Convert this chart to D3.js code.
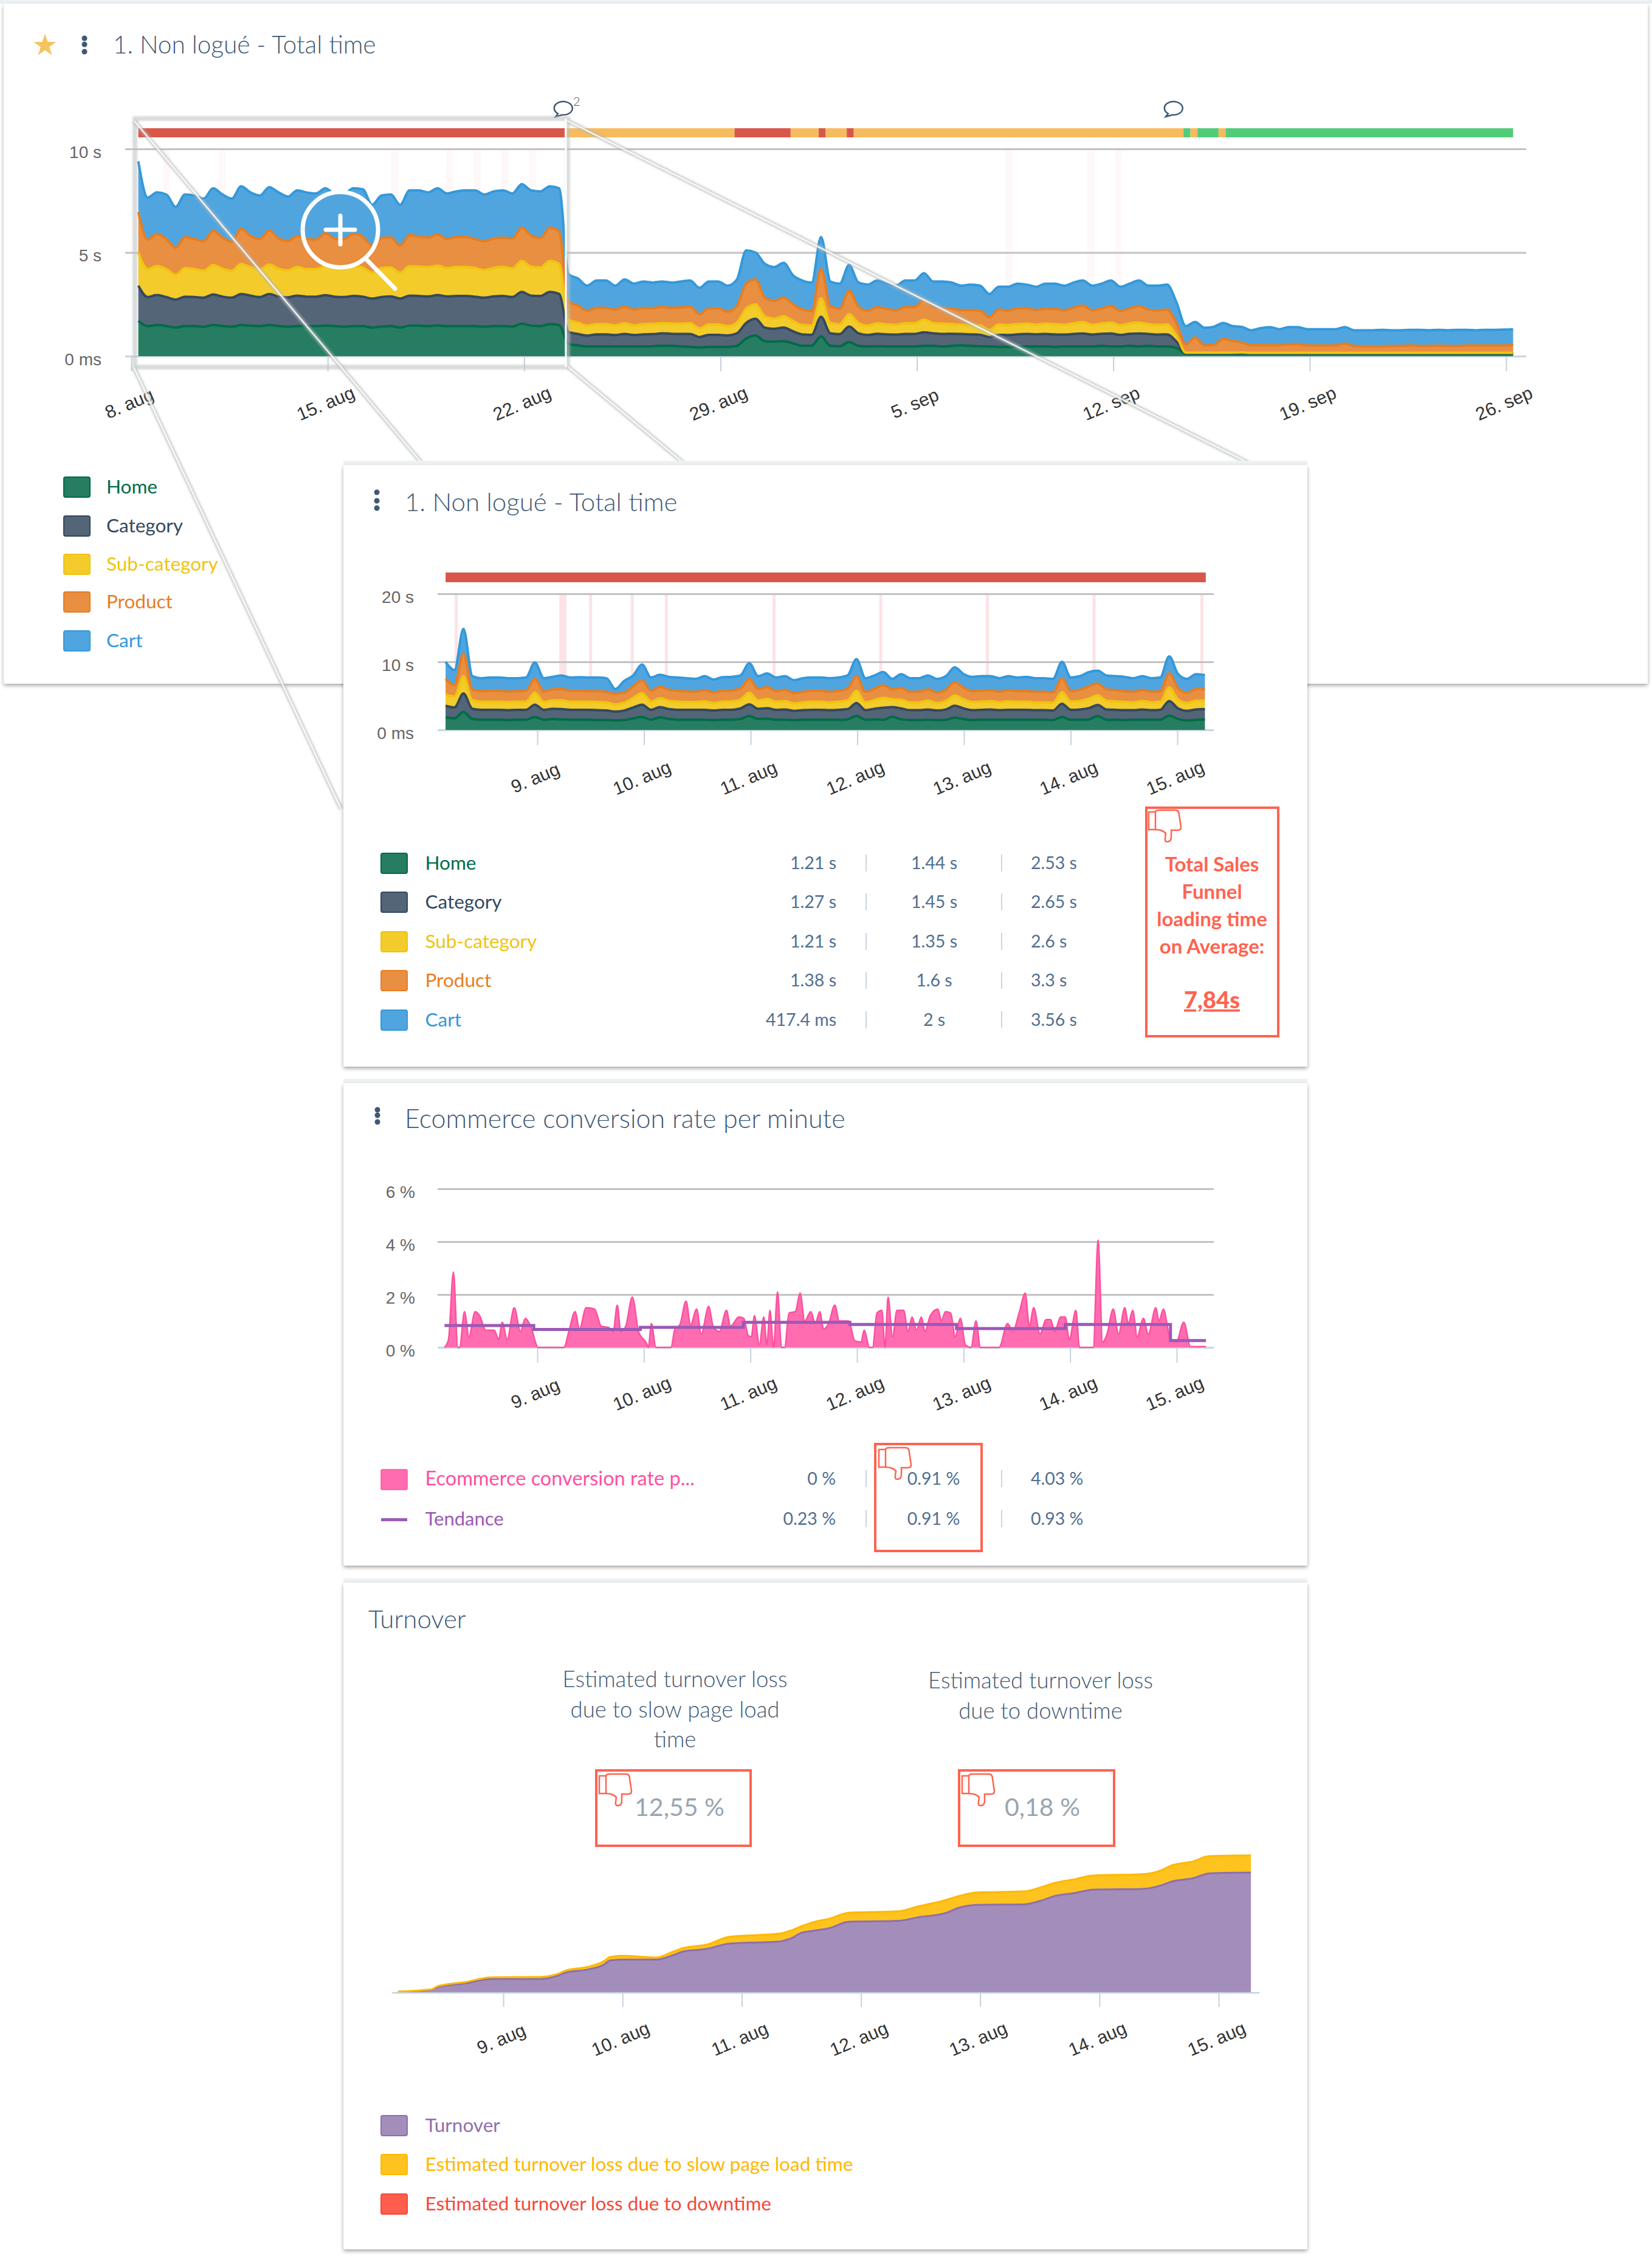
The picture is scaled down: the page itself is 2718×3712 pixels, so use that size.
<!DOCTYPE html>
<html>
<head>
<meta charset="utf-8">
<title>Total time</title>
<script src="https://cdn.jsdelivr.net/npm/d3@7"></script>
<style>
  html, body { margin: 0; padding: 0; background: #fff; }
  svg { display: block; }
  text { font-family: Lato, sans-serif; }
  .tick text { font-family: "Liberation Sans", sans-serif; }
</style>
</head>
<body>
<svg id="page" width="2718" height="3712"></svg>
<script>
// ---- overview chart, one point every 8 hours, 8 aug 06:00 -> 26 sep 06:00 (seconds)
const overviewHome = [
  1.7,1.45,1.5,1.45,1.38,1.45,1.45,1.42,1.5,1.45,1.42,1.5,1.47,1.45,1.5,1.45,1.42,1.45,1.45,1.45,1.47,1.45,1.42,
  1.45,1.45,1.38,1.43,1.45,1.38,1.47,1.47,1.45,1.48,1.45,1.45,1.45,1.45,1.42,1.45,1.45,1.43,1.57,1.47,1.45,1.55,1.5,
  .58,.52,.47,.47,.47,.47,.47,.47,.47,.48,.5,.5,.47,.45,.42,.45,.45,.45,.5,.85,
  1.0,.72,.7,.72,.62,.5,.5,.95,.5,.48,.68,.5,.47,.48,.47,.47,.47,.47,.5,.5,
  .47,.5,.52,.5,.48,.47,.45,.45,.45,.47,.47,.47,.45,.47,.47,.47,.47,.5,.47,.47,.5,.47,.5,.47,.47,
  .4,.12,.12,.12,.12,.12,.12,.13,
  .13,.13,.13,.13,.13,.13,.13,.13,.13,.13,.13,.13,.13,.13,.13,.13,.13,.13,.13,.13,.13,.13,.13,.13,.13,.13,.13,.13,.13];
const overviewCategory = [
  1.7,1.4,1.45,1.4,1.35,1.42,1.4,1.4,1.48,1.42,1.4,1.5,1.45,1.4,1.5,1.42,1.42,1.47,1.42,1.42,1.47,1.42,1.43,
  1.45,1.42,1.4,1.42,1.43,1.4,1.45,1.43,1.43,1.47,1.43,1.45,1.45,1.42,1.4,1.43,1.45,1.42,1.53,1.45,1.45,1.55,1.5,
  .59,.55,.52,.58,.58,.55,.6,.55,.58,.58,.6,.58,.6,.62,.5,.58,.58,.55,.6,.75,
  .8,.65,.62,.66,.58,.55,.53,.95,.6,.58,.75,.6,.55,.6,.58,.57,.6,.6,.65,.6,
  .6,.58,.55,.55,.55,.45,.58,.57,.6,.6,.58,.6,.6,.57,.6,.62,.57,.58,.62,.55,.58,.62,.57,.57,.58,
  .3,.02,.02,.02,.02,.02,.02,.02,
  .01,.01,.01,.01,.01,.01,.01,.01,.01,.01,.01,.01,.01,.01,.01,.01,.01,.01,.01,.01,.01,.01,.01,.01,.01,.01,.01,.01,.01];
const overviewSub = [
  1.6,1.35,1.4,1.35,1.2,1.38,1.35,1.3,1.42,1.35,1.3,1.45,1.38,1.35,1.42,1.35,1.3,1.38,1.33,1.33,1.4,1.35,1.35,
  1.45,1.4,1.25,1.4,1.4,1.25,1.42,1.42,1.42,1.42,1.37,1.4,1.4,1.38,1.33,1.38,1.4,1.38,1.5,1.4,1.38,1.5,1.45,
  .59,.55,.48,.5,.5,.47,.52,.47,.5,.5,.5,.5,.5,.52,.42,.5,.5,.45,.52,.7,
  .7,.55,.5,.55,.5,.45,.45,.9,.5,.48,.6,.5,.45,.5,.48,.47,.52,.52,.62,.5,
  .5,.47,.45,.45,.45,.35,.5,.48,.5,.5,.47,.5,.5,.47,.52,.55,.47,.5,.53,.47,.5,.53,.47,.47,.48,
  .3,.03,.03,.03,.03,.03,.03,.03,
  .02,.02,.02,.02,.02,.02,.02,.02,.02,.02,.02,.02,.02,.02,.02,.02,.02,.02,.02,.02,.02,.02,.02,.02,.02,.02,.02,.02,.02];
const overviewProduct = [
  1.95,1.42,1.55,1.45,1.3,1.5,1.45,1.42,1.65,1.5,1.4,1.7,1.5,1.45,1.65,1.45,1.42,1.5,1.45,1.42,1.6,1.45,1.45,
  1.55,1.5,1.3,1.45,1.45,1.3,1.5,1.45,1.42,1.5,1.4,1.45,1.45,1.4,1.4,1.42,1.42,1.45,1.6,1.5,1.42,1.6,1.55,
  .88,.82,.72,.78,.78,.75,.8,.75,.78,.75,.78,.75,.78,.8,.68,.78,.78,.7,.8,1.2,
  1.2,.9,.85,.9,.8,.75,.7,1.4,.8,.75,1.12,.78,.72,.78,.75,.7,.78,.78,.95,.78,
  .76,.75,.7,.72,.72,.6,.72,.7,.75,.75,.7,.72,.72,.7,.75,.8,.7,.72,.8,.7,.72,.8,.7,.7,.72,
  .6,.4,.73,.35,.37,.66,.58,.48,
  .37,.37,.37,.37,.42,.42,.36,.35,.35,.36,.45,.33,.32,.32,.32,.33,.33,.36,.33,.33,.35,.33,.33,.35,.35,.35,.35,.35,.4];
const overviewCart = [
  2.45,2.03,2.0,2.15,1.97,2.05,2.1,2.06,2.05,2.08,2.08,2.05,2.1,2.1,2.08,2.23,2.14,2.2,2.25,2.23,2.16,2.18,2.2,
  2.2,2.28,1.97,2.05,2.07,1.97,2.16,2.23,2.18,2.23,2.2,2.2,2.25,2.35,2.25,2.27,2.28,2.17,2.1,2.18,2.25,2.0,2.1,
  1.31,1.31,1.21,1.32,1.32,1.16,1.31,1.26,1.27,1.24,1.22,1.22,1.25,1.26,1.28,1.29,1.29,1.25,1.28,1.6,
  1.3,1.63,1.63,1.67,1.4,1.4,1.37,1.55,1.2,1.21,1.25,1.17,1.26,1.29,1.22,1.19,1.28,1.28,1.28,1.22,
  1.27,1.25,1.18,1.23,1.2,1.13,1.1,1.15,1.2,1.13,1.13,1.21,1.23,1.19,1.21,1.21,1.19,1.2,1.23,1.16,1.2,1.23,1.16,1.19,1.2,
  1.0,.88,.75,.85,.88,.77,.7,.75,
  .72,.82,.87,.77,.82,.82,.78,.79,.79,.78,.79,.76,.77,.77,.79,.76,.76,.75,.78,.76,.76,.76,.78,.76,.74,.76,.76,.77,.74];
const overviewTickDays = [0, 7, 14, 21, 28, 35, 42, 49];
const overviewTickLabels = ['8. aug', '15. aug', '22. aug', '29. aug', '5. sep', '12. sep', '19. sep', '26. sep'];
const overviewStatusFrom = [.25, 15.5, 21.5, 23.5, 24.5, 24.75, 25.5, 25.75, 37.5, 37.75, 38, 38.75, 39];
const overviewStatusTo = [15.45, 21.5, 23.5, 24.5, 24.75, 25.5, 25.75, 37.5, 37.75, 38, 38.75, 39, 49.25];
const overviewStatusKind = ['red', 'orange', 'red', 'orange', 'red', 'orange', 'red', 'orange', 'green', 'orange', 'green', 'orange', 'green'];
const overviewAlertDays = [1.26, 3.23, 9.38, 11.35, 12.33, 13.32, 14.3, 31.28, 34.2, 35.2];

// ---- detail chart, one point every 2 hours from 8 aug 03:24 (seconds)
const detailHome = [
  1.85,1.7,2.65,1.6,1.5,1.5,1.5,1.45,1.5,1.5,
  1.9,1.5,1.6,1.55,1.5,1.5,1.5,1.45,1.45,1.4,
  1.45,1.7,1.9,1.5,1.85,1.6,1.5,1.5,1.5,1.5,
  1.45,1.5,1.5,1.6,2.05,1.6,1.65,1.5,1.5,1.45,
  1.5,1.5,1.5,1.5,1.5,1.55,2.05,1.5,1.55,1.5,
  1.95,1.55,1.45,1.45,1.5,1.45,1.5,1.8,1.6,1.45,
  1.5,1.5,1.5,1.5,1.5,1.5,1.5,1.5,1.45,1.9,
  1.5,1.5,1.55,2.05,1.5,1.5,1.45,1.5,1.5,1.5,
  1.5,2.1,1.6,1.4,1.5,1.55];
const detailCategory = [
  1.7,1.6,2.7,1.5,1.45,1.45,1.45,1.45,1.45,1.45,
  1.8,1.45,1.5,1.5,1.45,1.45,1.45,1.45,1.4,1.3,
  1.4,1.6,1.8,1.45,1.5,1.45,1.45,1.45,1.45,1.45,
  1.4,1.45,1.45,1.55,1.7,1.5,1.55,1.45,1.5,1.35,
  1.4,1.45,1.45,1.4,1.45,1.5,1.9,1.4,1.55,1.75,
  1.4,1.6,1.45,1.45,1.5,1.4,1.5,1.75,1.55,1.45,
  1.45,1.5,1.4,1.45,1.45,1.45,1.4,1.4,1.4,1.95,
  1.45,1.5,1.65,1.6,1.5,1.45,1.45,1.4,1.5,1.4,
  1.45,2.15,1.55,1.4,1.5,1.5];
const detailSub = [
  1.65,1.6,2.55,1.25,1.2,1.2,1.2,1.2,1.2,1.2,
  1.8,1.15,1.25,1.3,1.2,1.2,1.2,1.2,1.2,1.05,
  1.15,1.4,1.7,1.2,1.3,1.25,1.2,1.15,1.15,1.25,
  1.1,1.2,1.25,1.3,1.75,1.25,1.35,1.2,1.25,1.1,
  1.15,1.2,1.2,1.15,1.2,1.3,1.8,1.15,1.3,1.45,
  1.15,1.3,1.15,1.15,1.3,1.1,1.25,1.5,1.35,1.2,
  1.2,1.25,1.15,1.25,1.2,1.2,1.15,1.15,1.15,1.7,
  1.2,1.25,1.4,1.45,1.3,1.25,1.2,1.15,1.25,1.15,
  1.2,2.0,1.3,1.15,1.3,1.25];
const detailProduct = [
  2.3,1.7,3.3,1.6,1.55,1.6,1.6,1.55,1.55,1.6,
  2.0,1.55,1.6,1.65,1.6,1.6,1.55,1.6,1.55,1.55,
  1.5,1.7,1.9,1.6,1.7,1.6,1.6,1.55,1.5,1.65,
  1.55,1.6,1.6,1.65,2.0,1.65,1.75,1.55,1.65,1.5,
  1.55,1.6,1.6,1.55,1.6,1.7,2.15,1.55,1.65,1.85,
  1.5,1.7,1.55,1.6,1.65,1.55,1.65,1.95,1.7,1.6,
  1.6,1.6,1.55,1.65,1.55,1.6,1.55,1.55,1.5,2.05,
  1.55,1.65,1.8,1.7,1.65,1.65,1.6,1.55,1.65,1.55,
  1.55,2.05,1.7,1.5,1.7,1.65];
const detailCart = [
  2.5,2.2,3.65,1.95,1.9,1.95,1.95,1.95,1.9,1.95,
  2.4,1.95,1.85,2,1.95,2,2,2,2,.7,
  1.7,1.6,2.3,1.95,1.75,1.9,1.95,1.95,1.9,2.05,
  1.9,2,2,1.9,2.3,1.9,2,2,2,1.9,
  2,1.95,1.95,2,1.95,1.95,2.5,2,1.95,1.95,
  1.5,2.05,2,1.95,2.05,2,2,2.2,2,2.1,
  2.15,2.05,2,2.05,2,2.05,2,2,2,2.4,
  2,2,2.1,1.9,2.05,2.05,2.1,2,2,2,
  2,2.5,2.05,2.05,2.2,2.1];
const detailTickDays = [1, 2, 3, 4, 5, 6, 7];
const detailTickLabels = ['9. aug', '10. aug', '11. aug', '12. aug', '13. aug', '14. aug', '15. aug'];
const detailAlertDays = [.24, 1.24, 1.5, 1.89, 2.21, 3.22, 4.22, 5.22, 6.22, 7.23];

const seriesNames = ['Home', 'Category', 'Sub-category', 'Product', 'Cart'];
const seriesFill = ['#277d61', '#546578', '#f3cb2b', '#e88f41', '#50a5df'];
const seriesStroke = ['#006b47', '#34495e', '#f1c40f', '#e67e22', '#3498db'];
const legendMin = ['1.21 s', '1.27 s', '1.21 s', '1.38 s', '417.4 ms'];
const legendAvg = ['1.44 s', '1.45 s', '1.35 s', '1.6 s', '2 s'];
const legendMax = ['2.53 s', '2.65 s', '2.6 s', '3.3 s', '3.56 s'];

// ---- conversion rate (hours since 8 aug 00:00, percent)
const conversionHours = [
  3.1,4,5.1,6.1,6.5,7.6,8.6,10,11,12.4,14.3,15.3,16.1,17.2,18.8,20.2,21.3,22.5,24.2,30,31.1,32.5,33.5,35,36.9,38.4,40.1,41.1,42,42.8,
  43.9,45.4,46.8,48.6,49,49.7,50.7,54.1,55,56.1,57.5,58.5,59.9,60.9,62.6,63.6,65,66.6,67.5,69.4,70.5,71.5,72.2,72.9,74,75,75.7,76.4,77.2,78.1,
  79,79.7,80.7,82.1,83.2,84.2,85.6,86.6,87.6,88.5,89.6,91,92,94.1,95.5,96.9,97.6,98.8,99.5,100.5,101.6,102.3,103,104,105,106.5,107.5,108.4,109.4,110.5,
  111.3,112.5,114.2,115,115.9,117.1,118.1,119.3,120.4,121.7,122.8,123.8,128,129.9,131.1,132.5,133.9,134.8,135.8,137.2,138.6,139.6,140.5,141.9,142.9,143.8,145.3,146.1,149.2,150.3,
  151.3,152.3,153.7,154.9,156.3,157.1,158.1,159.1,160.5,161.6,163.3,164,165,166.5,167.9,169.6,171.1,174.6];
const conversionRate = [
  0,.3,2.85,0,0,1.35,.4,1.35,1.2,.65,.65,.3,.95,.3,1.5,.6,1.1,.8,0,0,.6,1.35,.7,1.5,1.45,.8,.75,.6,1.6,.6,
  .8,1.9,.6,.15,0,.9,0,0,.7,.85,1.75,.85,1.45,.5,1.55,.8,.6,1.4,.8,1.15,1.1,.45,.4,1.2,.1,1.15,.1,1.4,0,2.1,
  0,0,1.3,1.35,2.05,1,1.35,.9,1.35,.7,.9,1.6,1,1,.25,.2,.65,0,0,1.3,1.4,0,1.9,.4,1.4,1.4,.6,1.15,.65,1.15,
  .6,1.2,1.45,1,1.35,1.3,.4,1.1,.1,0,1,0,0,.9,.6,1.3,2.05,.8,1.5,.5,1.05,1.05,.6,1.15,1.15,.3,1.4,0,0,4.05,
  .2,.5,1.45,.5,1.5,.9,1.4,.4,1.1,.5,1.5,1,1.45,.35,.2,.95,.03,.03];
const trendHours = [3.1, 23.2, 47.2, 70.4, 94.4, 118.4, 142.9, 166.6, 174.6];
const trendRate = [.83, .68, .76, .95, .87, .71, .87, .26, .26];

// ---- turnover (hours since 8 aug 00:00, share of final turnover)
const turnoverHours = [
  2.8,9.5,10.7,16.4,21.5,31.6,34.7,36.6,41,44.2,45.5,48,54.9,58.1,60,65,69.5,79.6,82.1,84,
  87.1,89.7,93.5,103.6,107.4,113,115.6,119.4,128.8,132.6,135.1,138.9,142.7,152.8,156.6,158.5,162.9,166.1,174.5];
const turnoverValue = [
  .7,2.5,4.7,7.9,11.5,11.5,14,16.8,19.4,23.3,26.9,27.6,27.6,31.2,34.1,36.6,40.9,42.7,45.6,49.9,
  52,53.8,59.1,59.9,62.7,66.3,70.6,73.1,73.5,77.1,80.6,82.8,85.7,86.4,89.6,92.5,95.3,99.3,100];
const turnoverSlowLoss = [
  .4,.4,.7,1.1,1.4,1.8,1.4,1.8,2.2,2.9,2.9,3.2,1.8,2.9,2.9,3.6,5.7,6.5,6.5,5.4,
  7.5,7.9,7.5,7.9,9,10.8,9.7,10.4,10.8,11.1,10.8,11.5,11.8,12.2,12.5,13.3,14,14.3,14.3];

const textBlue = '#3f5874';
const valueBlue = '#516f90';
const alertRed = '#ff6350';
const statusColor = {red: '#d9574a', orange: '#f7bb5f', green: '#52cb7b'};

const svg = d3.select('#page');

const defs = svg.append('defs');
defs.append('filter').attr('id', 'cardShadow')
  .attr('x', '-2%').attr('y', '-2%').attr('width', '104%').attr('height', '104%')
  .append('feDropShadow')
  .attr('dx', 0).attr('dy', 3).attr('stdDeviation', 3)
  .attr('flood-color', '#000').attr('flood-opacity', .35);
defs.append('filter').attr('id', 'soft')
  .attr('x', '-5%').attr('y', '-5%').attr('width', '110%').attr('height', '110%')
  .append('feGaussianBlur').attr('stdDeviation', 1.5);

function card(x0, y0, x1, y1) {
  svg.append('rect').attr('x', x0).attr('y', y0 - 7).attr('width', x1 - x0).attr('height', 7).attr('fill', '#eef2f4');
  svg.append('rect').attr('x', x0).attr('y', y0).attr('width', x1 - x0).attr('height', y1 - y0)
    .attr('rx', 3).attr('fill', '#fff').attr('filter', 'url(#cardShadow)');
}

function label(x, y, str, size, color, opts) {
  opts = opts || {};
  return svg.append('text').attr('x', x).attr('y', y + 3).text(str)
    .attr('font-size', size).attr('fill', color)
    .attr('text-anchor', opts.anchor || 'start')
    .attr('dominant-baseline', 'middle')
    .attr('font-weight', opts.weight || 400);
}

function menuDots(x, ys) {
  ys.forEach((y) => {
    svg.append('circle').attr('cx', x).attr('cy', y).attr('r', 4.5).attr('fill', textBlue);
  });
}

function thumbDown(x, y) {
  const g = svg.append('g').attr('transform', `translate(${x},${y})`)
    .attr('fill', 'none').attr('stroke', alertRed).attr('stroke-width', 2.5);
  g.append('path').attr('d', 'M0 3H11V32H0Z');
  g.append('path').attr('d', 'M11 3Q11 0 18 0H44Q50 0 50 8L53 28Q53 33 48 33H37V44Q37 52 30 52Q26 52 27 46L28 38Q22 32 11 32');
}

function alertBox(x0, y0, x1, y1) {
  svg.append('rect').attr('x', x0).attr('y', y0).attr('width', x1 - x0).attr('height', y1 - y0)
    .attr('fill', 'none').attr('stroke', alertRed).attr('stroke-width', 4);
}

function commentIcon(x, y) {
  svg.append('path').attr('transform', `translate(${x},${y})`)
    .attr('d', 'M-9 9A15 11 0 1 1 -2 11L-13 14Z')
    .attr('fill', '#fff').attr('stroke', textBlue).attr('stroke-width', 2.5);
}

function swatch(x, y, fill, stroke) {
  svg.append('rect').attr('x', x).attr('y', y - 16).attr('width', 43).attr('height', 33).attr('rx', 3)
    .attr('fill', fill).attr('stroke', stroke).attr('stroke-width', 2);
}

// y axis whose ticks are the chart's gridlines
function gridAxis(y, left, right, values, format, labelGap) {
  const g = svg.append('g').attr('transform', `translate(${left},0)`)
    .call(d3.axisLeft(y).tickValues(values).tickFormat(format)
      .tickSize(-(right - left)).tickPadding(labelGap));
  g.select('.domain').remove();
  g.selectAll('.tick line').attr('stroke', (d) => d === 0 ? '#c6d5e0' : '#c2c2c2').attr('stroke-width', 3);
  g.selectAll('.tick text').attr('font-size', 28).attr('fill', '#666').attr('dy', '.5em');
  return g;
}

function timeAxis(x, y0, days, labels, tickLen, labelY) {
  const g = svg.append('g').attr('transform', `translate(0,${y0})`)
    .call(d3.axisBottom(x).tickValues(days).tickFormat((d, i) => labels[i]).tickSize(tickLen));
  g.select('.domain').remove();
  g.selectAll('.tick line').attr('stroke', '#c3d2df').attr('stroke-width', 2);
  g.selectAll('.tick text')
    .attr('font-size', 30).attr('fill', '#333')
    .attr('y', 0).attr('dy', 0)
    .attr('text-anchor', 'middle').attr('dominant-baseline', 'middle')
    .attr('transform', `translate(-3,${labelY}) rotate(-23)`);
}

function drawStack(columns, dayOf, x, y) {
  const rows = columns[0].map((_, i) => {
    const row = {day: dayOf(i)};
    seriesNames.forEach((name, s) => { row[name] = columns[s][i]; });
    return row;
  });
  const layers = d3.stack().keys(seriesNames)(rows);
  const area = d3.area().curve(d3.curveMonotoneX)
    .x((d) => x(d.data.day)).y0((d) => y(d[0])).y1((d) => y(d[1]));
  const line = d3.line().curve(d3.curveMonotoneX)
    .x((d) => x(d.data.day)).y((d) => y(d[1]));
  layers.forEach((layer, s) => {
    svg.append('path').datum(layer).attr('d', area).attr('fill', seriesFill[s]);
  });
  layers.forEach((layer, s) => {
    svg.append('path').datum(layer).attr('d', line).attr('fill', 'none')
      .attr('stroke', seriesStroke[s]).attr('stroke-width', 4).attr('stroke-linejoin', 'round');
  });
}

// ======== overview card
svg.append('rect').attr('width', 2718).attr('height', 6).attr('fill', '#eaeff2');
card(6, 6, 2711, 1125);
svg.append('path').attr('d', d3.symbol(d3.symbolStar, 430)()).attr('transform', 'translate(74,75)').attr('fill', '#f6c35f');
menuDots(139, [63, 73, 85]);
label(186, 75, '1. Non logué - Total time', 40.5, textBlue, {weight: 300});

const xOverview = d3.scaleLinear().domain([0, 49]).range([216, 2478]);
const yOverview = d3.scaleLinear().domain([0, 10]).range([586, 245]);

overviewAlertDays.forEach((day) => {
  svg.append('rect').attr('x', xOverview(day - .125)).attr('y', 247).attr('width', xOverview(.25) - xOverview(0))
    .attr('height', 339).attr('fill', '#fff8f8');
});
gridAxis(yOverview, 206, 2511, [0, 5, 10], (d) => ['0 ms', '5 s', '10 s'][d / 5], 39);
overviewStatusFrom.forEach((from, i) => {
  svg.append('rect').attr('x', xOverview(from)).attr('y', 211)
    .attr('width', xOverview(overviewStatusTo[i]) - xOverview(from)).attr('height', 15)
    .attr('fill', statusColor[overviewStatusKind[i]]);
});
drawStack([overviewHome, overviewCategory, overviewSub, overviewProduct, overviewCart],
  (i) => .25 + i / 3, xOverview, yOverview);
timeAxis(xOverview, 587, overviewTickDays, overviewTickLabels, 24, 79);

commentIcon(927, 178);
label(943, 166, '2', 20, textBlue, {weight: 300});
commentIcon(1931, 178);

seriesNames.forEach((name, s) => {
  const yMid = [801, 865, 928, 990, 1054][s];
  swatch(105, yMid, seriesFill[s], seriesStroke[s]);
  label(175, yMid, name, 31.5, seriesStroke[s]);
});

// zoom selection: box, connector lines and the lens
const connectors = [[221, 199, 694, 762], [934, 199, 2055, 762], [220, 604, 561, 1331], [935, 604, 1125, 762]];
const zoomFx = svg.append('g').attr('fill', 'none');
connectors.forEach((c) => {
  zoomFx.append('line').attr('x1', c[0]).attr('y1', c[1]).attr('x2', c[2]).attr('y2', c[3])
    .attr('stroke', '#b4b8b8').attr('stroke-opacity', .6).attr('stroke-width', 8).attr('filter', 'url(#soft)');
});
zoomFx.append('rect').attr('x', 222).attr('y', 195).attr('width', 712).attr('height', 409)
  .attr('stroke', '#bcc0c0').attr('stroke-opacity', .55).attr('stroke-width', 8).attr('filter', 'url(#soft)');
connectors.forEach((c) => {
  zoomFx.append('line').attr('x1', c[0]).attr('y1', c[1]).attr('x2', c[2]).attr('y2', c[3])
    .attr('stroke', '#fff').attr('stroke-opacity', .85).attr('stroke-width', 2.5);
});
zoomFx.append('line').attr('x1', 931).attr('x2', 931).attr('y1', 195).attr('y2', 604).attr('stroke', '#fff').attr('stroke-width', 3);
const lens = svg.append('g').attr('fill', 'none').attr('stroke', '#fff').attr('stroke-width', 7).attr('stroke-linecap', 'round');
lens.append('circle').attr('cx', 560).attr('cy', 378).attr('r', 62);
lens.append('path').attr('d', 'M560 355V402M536 378H584M603 427L650 475');

// ======== detail card
card(565, 765, 2151, 1755);
menuDots(620, [810, 824, 836]);
label(666, 828, '1. Non logué - Total time', 42, textBlue, {weight: 300});

const xDetail = d3.scaleLinear().domain([0, 7]).range([708.5, 1937]);
const yDetail = d3.scaleLinear().domain([0, 20]).range([1201, 977]);

detailAlertDays.forEach((day, i) => {
  const w = i === 1 ? 12 : 5;
  svg.append('rect').attr('x', xDetail(day) - w / 2).attr('y', 979).attr('width', w).attr('height', 222).attr('fill', '#fde3e6');
});
gridAxis(yDetail, 720, 1997, [0, 10, 20], (d) => ['0 ms', '10 s', '20 s'][d / 10], 39);
svg.append('rect').attr('x', xDetail(.14)).attr('y', 942).attr('width', xDetail(7.267) - xDetail(.14)).attr('height', 16)
  .attr('fill', statusColor.red);
drawStack([detailHome, detailCategory, detailSub, detailProduct, detailCart],
  (i) => .14 + i * 2.01 / 24, xDetail, yDetail);
timeAxis(xDetail, 1201, detailTickDays, detailTickLabels, 25, 81);

seriesNames.forEach((name, s) => {
  const yMid = [1420, 1484, 1549, 1613, 1678][s];
  swatch(627, yMid, seriesFill[s], seriesStroke[s]);
  label(699.5, yMid, name, 31.5, seriesStroke[s]);
  label(1376, yMid, legendMin[s], 28.5, valueBlue, {anchor: 'end'});
  label(1537, yMid, legendAvg[s], 28.5, valueBlue, {anchor: 'middle'});
  label(1696, yMid, legendMax[s], 28.5, valueBlue);
  [1425, 1648].forEach((sx) => {
    svg.append('line').attr('x1', sx).attr('x2', sx).attr('y1', yMid - 14).attr('y2', yMid + 14)
      .attr('stroke', '#cbd6e2').attr('stroke-width', 2);
  });
});

alertBox(1886, 1329, 2103, 1705);
thumbDown(1890, 1333);
['Total Sales', 'Funnel', 'loading time', 'on Average:'].forEach((line, i) => {
  label(1994, 1423 + i * 44.7, line, 33, alertRed, {anchor: 'middle', weight: 700});
});
label(1994, 1646, '7,84s', 38, alertRed, {anchor: 'middle', weight: 900}).attr('text-decoration', 'underline');

// ======== conversion card
card(565, 1782, 2151, 2576);
menuDots(621, [1826, 1835, 1846]);
label(666, 1842, 'Ecommerce conversion rate per minute', 43, textBlue, {weight: 300});

const xConversion = d3.scaleLinear().domain([0, 168]).range([708.7, 1936]);
const yConversion = d3.scaleLinear().domain([0, 6]).range([2217, 1956]);

gridAxis(yConversion, 720, 1997, [0, 2, 4, 6], (d) => d + ' %', 37);
const conversionPoints = conversionHours.map((h, i) => ({h: h, v: conversionRate[i]}));
svg.append('path').datum(conversionPoints)
  .attr('d', d3.area().curve(d3.curveMonotoneX).x((d) => xConversion(d.h)).y0(yConversion(0)).y1((d) => yConversion(d.v)))
  .attr('fill', '#ff6db0');
svg.append('path').datum(conversionPoints)
  .attr('d', d3.line().curve(d3.curveMonotoneX).x((d) => xConversion(d.h)).y((d) => yConversion(d.v)))
  .attr('fill', 'none').attr('stroke', '#ff4f9f').attr('stroke-width', 2.5);
svg.append('path').datum(trendHours.map((h, i) => ({h: h, v: trendRate[i]})))
  .attr('d', d3.line().curve(d3.curveStepAfter).x((d) => xConversion(d.h)).y((d) => yConversion(d.v)))
  .attr('fill', 'none').attr('stroke', '#9b59b6').attr('stroke-width', 5);
timeAxis(xConversion, 2218, detailTickDays.map((d) => d * 24), detailTickLabels, 24, 77);

svg.append('rect').attr('x', 627).attr('y', 2418).attr('width', 43).attr('height', 33).attr('rx', 2).attr('fill', '#ff6db0').attr('stroke', '#ff4f9f').attr('stroke-width', 1.5);
label(699.5, 2433, 'Ecommerce conversion rate p...', 32.5, '#ff4f9f');
svg.append('rect').attr('x', 627).attr('y', 2498).attr('width', 43).attr('height', 5).attr('fill', '#9b59b6');
label(699.5, 2499, 'Tendance', 31, '#9b59b6');
[[2433, '0 %', '0.91 %', '4.03 %'], [2499, '0.23 %', '0.91 %', '0.93 %']].forEach((row) => {
  label(1375, row[0], row[1], 28.5, valueBlue, {anchor: 'end'});
  label(1536, row[0], row[2], 28.5, valueBlue, {anchor: 'middle'});
  label(1696, row[0], row[3], 28.5, valueBlue);
  [1425, 1648].forEach((sx) => {
    svg.append('line').attr('x1', sx).attr('x2', sx).attr('y1', row[0] - 14).attr('y2', row[0] + 14)
      .attr('stroke', '#cbd6e2').attr('stroke-width', 2);
  });
});
alertBox(1440, 2376, 1615, 2552);
thumbDown(1446, 2382);

// ======== turnover card
card(565, 2604, 2151, 3701);
label(606, 2666, 'Turnover', 42, textBlue, {weight: 300});
['Estimated turnover loss', 'due to slow page load', 'time'].forEach((line, i) => {
  label(1110.5, 2764 + i * 49.7, line, 36.5, textBlue, {anchor: 'middle', weight: 300});
});
['Estimated turnover loss', 'due to downtime'].forEach((line, i) => {
  label(1712, 2766 + i * 50, line, 36.5, textBlue, {anchor: 'middle', weight: 300});
});
alertBox(981, 2913, 1235, 3037);
thumbDown(986, 2919);
label(1118, 2975, '12,55 %', 41, '#99a5b0', {anchor: 'middle'});
alertBox(1578, 2913, 1833, 3037);
thumbDown(1583, 2919);
label(1715, 2975, '0,18 %', 41, '#99a5b0', {anchor: 'middle'});

const xTurnover = d3.scaleLinear().domain([0, 168]).range([632, 2005]);
const yTurnover = d3.scaleLinear().domain([0, 100]).range([3279, 3081]);
const turnoverRows = turnoverHours.map((h, i) => ({h: h, turnover: turnoverValue[i], slow: turnoverSlowLoss[i]}));
const turnoverLayers = d3.stack().keys(['turnover', 'slow'])(turnoverRows);
const turnoverFill = ['#a38dba', '#ffc31f'];
const turnoverStroke = ['#8e6fac', '#ffb800'];
turnoverLayers.forEach((layer, s) => {
  svg.append('path').datum(layer)
    .attr('d', d3.area().curve(d3.curveMonotoneX).x((d) => xTurnover(d.data.h)).y0((d) => yTurnover(d[0])).y1((d) => yTurnover(d[1])))
    .attr('fill', turnoverFill[s]);
});
turnoverLayers.forEach((layer, s) => {
  svg.append('path').datum(layer)
    .attr('d', d3.line().curve(d3.curveMonotoneX).x((d) => xTurnover(d.data.h)).y((d) => yTurnover(d[1])))
    .attr('fill', 'none').attr('stroke', turnoverStroke[s]).attr('stroke-width', 3);
});
svg.append('line').attr('x1', 645).attr('x2', 2072).attr('y1', 3279).attr('y2', 3279).attr('stroke', '#c3d2df').attr('stroke-width', 2.5);
timeAxis(xTurnover, 3279, detailTickDays.map((d) => d * 24), detailTickLabels, 23, 78);

const turnoverLegendNames = ['Turnover', 'Estimated turnover loss due to slow page load time', 'Estimated turnover loss due to downtime'];
const turnoverLegendFill = ['#a38dba', '#ffc31f', '#ff5d4d'];
const turnoverLegendStroke = ['#8e6fac', '#ffb800', '#f5483a'];
turnoverLegendNames.forEach((name, i) => {
  const yMid = [3497, 3561, 3626][i];
  swatch(627, yMid, turnoverLegendFill[i], turnoverLegendStroke[i]);
  label(699.5, yMid, name, 31.5, turnoverLegendStroke[i]);
});
</script>
</body>
</html>
